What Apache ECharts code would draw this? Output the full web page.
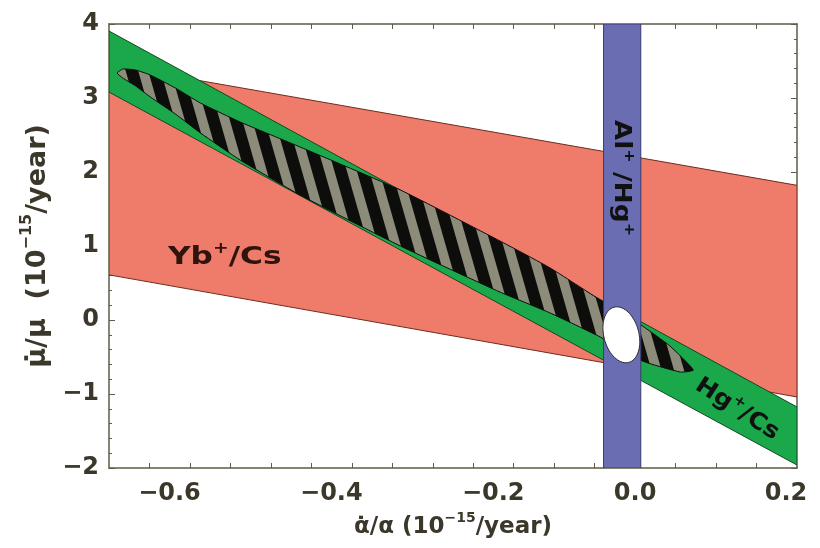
<!DOCTYPE html>
<html>
<head>
<meta charset="utf-8">
<title>alpha-dot / mu-dot</title>
<script src="https://cdn.jsdelivr.net/npm/echarts@6/dist/echarts.min.js"></script>
<style>html,body{margin:0;padding:0;background:#fff;}</style>
</head>
<body>
<div id="chart" style="width:820px;height:548px;"></div>
<script>
// axis values (10^-15 / year)
var xLabels = [-0.6, -0.4, -0.2, 0, 0.2];
var xTicks = [-0.6, -0.55, -0.5, -0.45, -0.4, -0.35, -0.3, -0.25, -0.2, -0.15, -0.1, -0.05, 0, 0.05, 0.1, 0.15];
var xRange = [-0.65, 0.2];
var yRange = [-2, 4];

// Yb+/Cs band: y at the left and right edge
var ybCsTop = [3.45, 1.82];
var ybCsBottom = [0.61, -1.04];
// Hg+/Cs band
var hgCsTop = [3.905, -1.176];
var hgCsBottom = [3.08, -1.96];
// Al+/Hg+ band (x only)
var alHgX = [-0.039, 0.007];

// combined region outline, upper edge left->right then lower edge right->left
var combX = [-0.640, -0.633, -0.617, -0.599, -0.568, -0.537, -0.488, -0.414, -0.290, -0.167, -0.105, -0.043, 0.009, 0.043, 0.072,
             0.056, 0.009, -0.043, -0.105, -0.167, -0.290, -0.414, -0.488, -0.537, -0.568, -0.599, -0.617, -0.633];
var combY = [3.338, 3.392, 3.378, 3.311, 3.135, 2.932, 2.676, 2.338, 1.757, 1.068, 0.703, 0.270, -0.081, -0.351, -0.676,
             -0.703, -0.554, -0.230, 0.095, 0.378, 1.000, 1.689, 2.162, 2.527, 2.784, 3.014, 3.162, 3.270];

// final constraint: centre and two half axes
var finalCenter = [-0.017, -0.2];
var finalMajor = [0.0091, -0.373];
var finalMinor = [0.0209, 0.061];

var FONT = "'DejaVu Sans', 'Liberation Sans', sans-serif";
var INK = '#3b382b';

var chart = echarts.init(document.getElementById('chart'));

function stripes() {
  var c = document.createElement('canvas');
  c.width = 820; c.height = 548;
  var g = c.getContext('2d');
  g.fillStyle = '#0d0d0b';
  g.fillRect(0, 0, 820, 548);
  g.fillStyle = '#8d8c7a';
  var lean = Math.tan(16 * Math.PI / 180) * 548;
  for (var x0 = -lean - 40; x0 < 860; x0 += 22.5) {
    g.beginPath();
    g.moveTo(x0, 0); g.lineTo(x0 + 10, 0);
    g.lineTo(x0 + 10 + lean, 548); g.lineTo(x0 + lean, 548);
    g.closePath(); g.fill();
  }
  return c;
}
var stripeImg = stripes();

function band(top, bottom, fill, stroke) {
  return {
    type: 'custom', clip: true, data: [[xRange[0], top[0]]], silent: true,
    renderItem: function (params, api) {
      return {
        type: 'polygon',
        shape: { points: [
          api.coord([xRange[0], top[0]]), api.coord([xRange[1], top[1]]),
          api.coord([xRange[1], bottom[1]]), api.coord([xRange[0], bottom[0]])
        ] },
        style: { fill: fill, stroke: stroke, lineWidth: 1 }
      };
    }
  };
}

function label(at, text, rot, color, size, sx) {
  return {
    type: 'custom', clip: false, data: [at], silent: true, z: 5,
    renderItem: function (params, api) {
      var p = api.coord(at);
      return {
        type: 'text', x: p[0], y: p[1], rotation: rot, scaleX: sx,
        style: {
          text: text, align: 'center', verticalAlign: 'middle',
          fill: color, font: 'bold ' + size + 'px ' + FONT,
          rich: {
            a: { fontSize: size, fontWeight: 'bold', fontFamily: FONT, fill: color, verticalAlign: 'bottom', lineHeight: size + 3 },
            s: { fontSize: Math.round(size * 0.6), fontWeight: 'bold', fontFamily: FONT, fill: color, verticalAlign: 'top', lineHeight: size + 3 }
          }
        }
      };
    }
  };
}

function xFmt(v) {
  var s = v === 0 ? '0.0' : v.toFixed(1).replace('-', '\u2212');
  if (v < 0) return '{n|' + s + '}';
  if (v > 0.1) return '{p|' + s + '}';
  return '{z|' + s + '}';
}
var tickFont = { fontSize: 24, fontWeight: 'bold', fontFamily: FONT, color: INK };

var option = {
  animation: false,
  backgroundColor: '#fff',
  grid: { left: 109, right: 23, top: 24, bottom: 80 },
  xAxis: [{
    type: 'value', min: xRange[0], max: xRange[1], position: 'bottom',
    axisLine: { show: true, onZero: false, lineStyle: { color: '#5e5c46', width: 1.5 } },
    axisTick: { inside: true, length: 5, customValues: xTicks, lineStyle: { color: '#5e5c46' } },
    axisLabel: {
      customValues: xLabels, margin: 14, formatter: xFmt,
      fontSize: 24, fontWeight: 'bold', fontFamily: FONT, color: INK,
      rich: {
        n: Object.assign({ padding: [0, 0, 0, 40] }, tickFont),
        p: Object.assign({ padding: [0, 22, 0, 0] }, tickFont),
        z: tickFont
      }
    },
    splitLine: { show: false },
    name: '{a|\u03b1\u0307/\u03b1 (10}{s|\u221215}{a|/year)}',
    nameLocation: 'middle', nameGap: 31,
    nameTextStyle: {
      rich: {
        a: { fontSize: 23, fontWeight: 'bold', fontFamily: FONT, color: INK, verticalAlign: 'bottom', lineHeight: 28 },
        s: { fontSize: 14, fontWeight: 'bold', fontFamily: FONT, color: INK, verticalAlign: 'top', lineHeight: 28 }
      }
    }
  }, {
    type: 'value', min: xRange[0], max: xRange[1], position: 'top',
    axisLine: { show: true, onZero: false, lineStyle: { color: '#5e5c46', width: 1.5 } },
    axisTick: { inside: true, length: 5, customValues: xTicks, lineStyle: { color: '#5e5c46' } },
    axisLabel: { show: false }, splitLine: { show: false }
  }],
  yAxis: [{
    type: 'value', min: yRange[0], max: yRange[1], interval: 1, position: 'left',
    axisLine: { show: true, onZero: false, lineStyle: { color: '#5e5c46', width: 1.5 } },
    axisTick: { inside: true, length: 6, lineStyle: { color: '#5e5c46' } },
    minorTick: { show: true, splitNumber: 5, length: 3, lineStyle: { color: '#5e5c46' } },
    axisLabel: {
      margin: 10, fontSize: 24, fontWeight: 'bold', fontFamily: FONT, color: INK,
      formatter: function (v) { return String(v).replace('-', '\u2212'); }
    },
    splitLine: { show: false },
    name: '{a|\u03bc\u0307/\u03bc  (10}{s|\u221215}{a|/year)}',
    nameLocation: 'middle', nameGap: 50,
    nameTextStyle: {
      rich: {
        a: { fontSize: 27, fontWeight: 'bold', fontFamily: FONT, color: INK, verticalAlign: 'bottom', lineHeight: 32 },
        s: { fontSize: 16, fontWeight: 'bold', fontFamily: FONT, color: INK, verticalAlign: 'top', lineHeight: 32 }
      }
    }
  }, {
    type: 'value', min: yRange[0], max: yRange[1], interval: 1, position: 'right',
    axisLine: { show: true, onZero: false, lineStyle: { color: '#5e5c46', width: 1.5 } },
    axisTick: { inside: true, length: 6, lineStyle: { color: '#5e5c46' } },
    minorTick: { show: true, splitNumber: 5, length: 3, lineStyle: { color: '#5e5c46' } },
    axisLabel: { show: false }, splitLine: { show: false }
  }],
  series: [
    band(ybCsTop, ybCsBottom, '#ef7b6b', '#6e2c1e'),
    band(hgCsTop, hgCsBottom, '#1ba84b', '#0f4a22'),
    {
      type: 'custom', clip: true, data: [[combX[0], combY[0]]], silent: true,
      renderItem: function (params, api) {
        var pts = combX.map(function (x, i) { return api.coord([x, combY[i]]); });
        return {
          type: 'polygon', shape: { points: pts, smooth: 0.15 },
          style: { fill: { image: stripeImg, repeat: 'no-repeat' }, stroke: '#0d0d0b', lineWidth: 1 }
        };
      }
    },
    {
      type: 'custom', clip: true, data: [[alHgX[0], yRange[0]]], silent: true,
      renderItem: function (params, api) {
        var a = api.coord([alHgX[0], yRange[1]]);
        var b = api.coord([alHgX[1], yRange[0]]);
        return {
          type: 'rect', shape: { x: a[0], y: a[1], width: b[0] - a[0], height: b[1] - a[1] },
          style: { fill: '#6a6db2', stroke: '#3a3a6e', lineWidth: 1 }
        };
      }
    },
    {
      type: 'custom', clip: true, data: [finalCenter], silent: true,
      renderItem: function (params, api) {
        var pts = [];
        for (var i = 0; i < 72; i++) {
          var t = i / 72 * 2 * Math.PI, c = Math.cos(t), s = Math.sin(t);
          pts.push(api.coord([finalCenter[0] + finalMajor[0] * c + finalMinor[0] * s,
                              finalCenter[1] + finalMajor[1] * c + finalMinor[1] * s]));
        }
        return { type: 'polygon', shape: { points: pts }, style: { fill: '#ffffff', stroke: '#2a2a2a', lineWidth: 1 } };
      }
    },
    label([-0.507, 0.865], '{a|Yb}{s|+}{a|/Cs}', 0, '#2e140c', 25, 1.25),
    label([-0.016, 1.92], '{a|Al}{s|+}{a| /Hg}{s|+}', -Math.PI / 2, '#111', 23, 1.15),
    label([0.127, -1.19], '{a|Hg}{s|+}{a|/Cs}', -33 * Math.PI / 180, '#111', 23, 1.1)
  ]
};
chart.setOption(option);
</script>
</body>
</html>
